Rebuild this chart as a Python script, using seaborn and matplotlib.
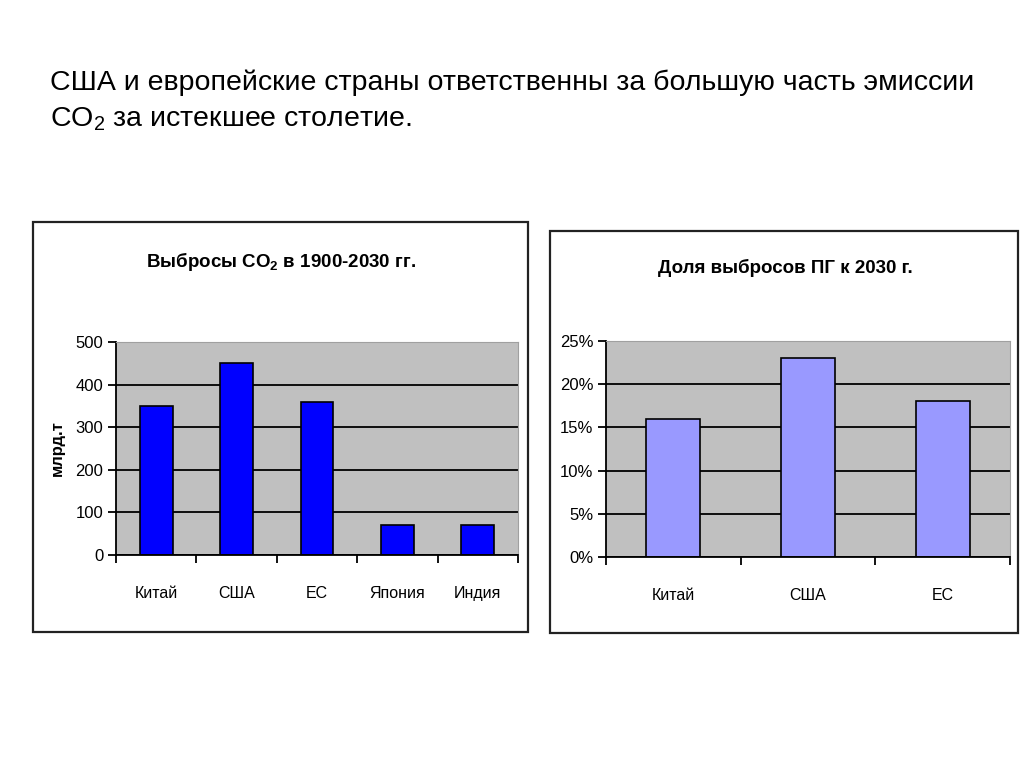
import numpy as np
import pandas as pd
import matplotlib
matplotlib.use("Agg")
import matplotlib.pyplot as plt
import matplotlib.patches as mpatches
from matplotlib.ticker import FuncFormatter, FixedLocator
import seaborn as sns

# Data
countries_left = ["Китай", "США", "ЕС", "Япония", "Индия"]
emissions = [350, 450, 360, 70, 70]

countries_right = ["Китай", "США", "ЕС"]
share_2030 = [0.16, 0.23, 0.18]

sns.set_style("white")
plt.rcParams['font.family'] = ['Liberation Sans', 'DejaVu Sans']
plt.rcParams['mathtext.default'] = 'regular'
for k in ['text.color', 'axes.labelcolor', 'xtick.color', 'ytick.color']:
    plt.rcParams[k] = 'black'

fig = plt.figure(figsize=(10.24, 7.67), dpi=100)

# heading
fig.text(50/1024, 1 - 83/767,
         "США и европейские страны ответственны за большую часть эмиссии",
         fontsize=20.5, va='center')
fig.text(50/1024, 1 - 119/767, "CO$_2$ за истекшее столетие.",
         fontsize=20.5, va='center')

# panel frames
for x0, y0, x1, y1 in [(33, 222, 528, 632), (550, 231, 1018, 633)]:
    fig.patches.append(mpatches.Rectangle(
        (x0/1024, 1 - y1/767), (x1 - x0)/1024, (y1 - y0)/767,
        transform=fig.transFigure, fill=False, edgecolor='#222222', lw=1.6))


def style_axes(ax, n):
    ax.set_facecolor('#c0c0c0')
    ax.set_axisbelow(True)
    ax.grid(axis='y', color='black', lw=1.3)
    ax.grid(axis='x', visible=False)
    for s in ['top', 'right']:
        ax.spines[s].set_color('#a0a0a0')
        ax.spines[s].set_linewidth(0.8)
    for s in ['left', 'bottom']:
        ax.spines[s].set_color('black')
        ax.spines[s].set_linewidth(1.3)
    ax.set_xlim(-0.5, n - 0.5)
    ax.xaxis.set_minor_locator(FixedLocator(np.arange(-0.5, n, 1.0)))
    ax.tick_params(axis='x', which='major', length=0, pad=22, labelsize=11.5)
    ax.tick_params(axis='x', which='minor', length=6, width=1.3,
                   direction='out', bottom=True)
    ax.tick_params(axis='y', length=6, width=1.3, direction='out',
                   left=True, labelsize=12, pad=3)
    ax.set_xlabel("")


# left chart
ax1 = fig.add_axes([116/1024, 1 - 555/767, 402/1024, 213/767])
df1 = pd.DataFrame({'country': countries_left, 'value': emissions})
sns.barplot(data=df1, x='country', y='value', color='#0000ff', saturation=1,
            width=0.41, edgecolor='black', linewidth=1.2, ax=ax1)
ax1.set_ylim(0, 500)
ax1.set_yticks(range(0, 501, 100))
style_axes(ax1, len(countries_left))
ax1.set_ylabel("млрд.т", fontsize=12, fontweight='bold', labelpad=8)
fig.text(281/1024, 1 - 262/767, "Выбросы CO$_2$ в 1900-2030 гг.",
         fontsize=13.5, fontweight='bold', ha='center', va='center')

# right chart
ax2 = fig.add_axes([606/1024, 1 - 557/767, 404/1024, 216/767])
df2 = pd.DataFrame({'country': countries_right, 'value': share_2030})
sns.barplot(data=df2, x='country', y='value', color='#9999ff', saturation=1,
            width=0.4, edgecolor='black', linewidth=1.2, ax=ax2)
ax2.set_ylim(0, 0.25)
ax2.set_yticks(np.arange(0, 0.2501, 0.05))
ax2.yaxis.set_major_formatter(FuncFormatter(lambda v, p: f"{v*100:.0f}%"))
style_axes(ax2, len(countries_right))
ax2.set_ylabel("")
fig.text(785/1024, 1 - 268/767, "Доля выбросов ПГ к 2030 г.",
         fontsize=13.5, fontweight='bold', ha='center', va='center')

fig.savefig("out.png", dpi=100, facecolor='white')
